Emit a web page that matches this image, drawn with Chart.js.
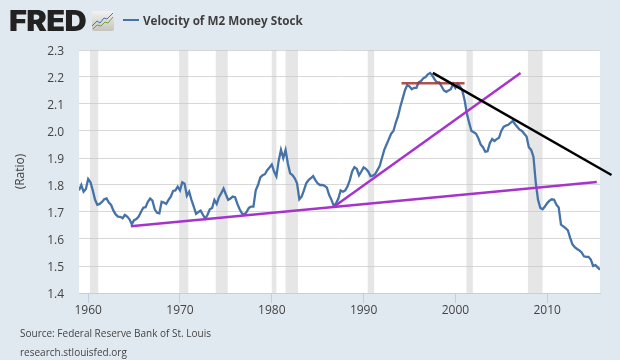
<!DOCTYPE html>
<html><head><meta charset="utf-8">
<script src="https://cdn.jsdelivr.net/npm/chart.js@4"></script>
<style>
html,body{margin:0;padding:0;background:#e1e9f0;overflow:hidden}
#wrap{position:relative;width:620px;height:360px;font-family:"Open Sans",sans-serif;color:#3f3f3f}
canvas{position:absolute;left:0;top:0}
.t{position:absolute;white-space:nowrap}
</style></head><body>
<div id="wrap">
<canvas id="c" width="620" height="360"></canvas>
<div class="t" id="fred" style="left:9px;top:3px;font:900 28px/36px Inter,sans-serif;color:#222;letter-spacing:-.6px;transform:scaleX(1.1);transform-origin:left center">FRED</div>
<svg class="t" style="left:92px;top:11px" width="23" height="21" viewBox="0 0 23 21">
<defs><linearGradient id="g" x1="0" y1="0" x2="0" y2="1"><stop offset="0" stop-color="#f2f2f2"/><stop offset="1" stop-color="#c4c4bc"/></linearGradient></defs>
<rect x="0" y="0" width="22" height="20" rx="2" fill="url(#g)"/>
<polyline points="0,15 5,10 8,12 12,7 15,8 21,2" fill="none" stroke="#4572a7" stroke-width="1"/>
<polyline points="1,18 5,14 9,15 13,11 16,12 21,6" fill="none" stroke="#7b9a3c" stroke-width="1"/>
</svg>
<div class="t" style="left:123px;top:19px;width:16px;height:2px;background:#4572a7"></div>
<div class="t" id="legend" style="left:143px;top:11px;font:700 11.7px/18px 'Open Sans',sans-serif;color:#3f3f3f">Velocity of M2 Money Stock</div>
<div class="t" style="left:20px;top:325px;font:10px/16px 'Open Sans',sans-serif;color:#444">Source: Federal Reserve Bank of St. Louis</div>
<div class="t" style="left:20px;top:344px;font:10px/16px 'Open Sans',sans-serif;color:#444">research.stlouisfed.org</div>
</div>
<script>
const startYear = 1959;
const velocity = [
1.78,1.80,1.775,1.785,
1.822,1.81,1.78,1.745,
1.727,1.73,1.737,1.747,
1.75,1.735,1.726,1.705,
1.691,1.683,1.682,1.677,
1.689,1.683,1.673,1.655,
1.67,1.674,1.683,1.70,
1.716,1.718,1.738,1.75,
1.742,1.71,1.697,1.695,
1.738,1.735,1.73,1.745,
1.757,1.778,1.78,1.794,
1.78,1.81,1.805,1.76,
1.775,1.745,1.72,1.693,
1.70,1.705,1.69,1.675,
1.69,1.71,1.715,1.745,
1.73,1.755,1.77,1.787,
1.765,1.745,1.75,1.757,
1.755,1.73,1.71,1.695,
1.69,1.70,1.715,1.72,
1.72,1.78,1.80,1.828,
1.836,1.84,1.855,1.865,
1.876,1.85,1.832,1.89,
1.93,1.90,1.93,1.88,
1.843,1.837,1.825,1.806,
1.747,1.757,1.78,1.806,
1.818,1.825,1.833,1.818,
1.806,1.80,1.80,1.797,
1.79,1.763,1.745,1.723,
1.732,1.75,1.78,1.775,
1.78,1.795,1.818,1.85,
1.866,1.86,1.836,1.85,
1.865,1.86,1.85,1.833,
1.835,1.84,1.855,1.87,
1.90,1.93,1.95,1.97,
1.99,2.00,2.03,2.055,
2.09,2.12,2.15,2.17,
2.165,2.155,2.16,2.16,
2.18,2.185,2.195,2.20,
2.21,2.215,2.205,2.19,
2.18,2.18,2.165,2.15,
2.145,2.15,2.155,2.175,
2.16,2.175,2.165,2.15,
2.115,2.065,2.03,2.00,
1.995,1.99,1.973,1.95,
1.94,1.923,1.925,1.955,
1.97,1.963,1.97,1.975,
2.00,2.015,2.02,2.023,
2.03,2.037,2.025,2.015,
2.005,2.00,1.99,1.98,
1.94,1.93,1.905,1.81,
1.745,1.715,1.71,1.72,
1.733,1.742,1.747,1.745,
1.727,1.717,1.653,1.647,
1.64,1.632,1.604,1.58,
1.57,1.563,1.558,1.55,
1.536,1.534,1.534,1.524,
1.50,1.503,1.495,1.486];
const trendLongPurple = [{x:1964.64,y:1.647},{x:2015.4,y:1.811}];
const trendSteepPurple = [{x:1986.87,y:1.722},{x:2007.1,y:2.215}];
const trendBlack = [{x:1997.54,y:2.215},{x:2017.0,y:1.837}];
const trendRed = [{x:1994.13,y:2.177},{x:2001.0,y:2.177}];
const recessions = [[1960.2,1961.1],[1969.9,1970.9],[1973.9,1975.2],[1980.0,1980.5],[1981.5,1982.85],[1990.45,1991.15],[2001.2,2001.9],[2007.9,2009.5]];
const xTicks = [1960,1970,1980,1990,2000,2010];
const yTicks = [1.4,1.5,1.6,1.7,1.8,1.9,2.0,2.1,2.2,2.3];

const series = velocity.map((v,i)=>({x:startYear+i/4,y:v}));
const bg = {id:'bg',
 beforeDraw(ch){const a=ch.chartArea,c=ch.ctx;c.save();c.fillStyle='#fff';c.fillRect(a.left,a.top,a.right-a.left,a.bottom-a.top);c.restore();},
 beforeDatasetsDraw(ch){const a=ch.chartArea,c=ch.ctx,s=ch.scales.x;c.save();c.fillStyle='rgba(200,200,200,0.45)';
  recessions.forEach(r=>{const l=s.getPixelForValue(r[0]),h=s.getPixelForValue(r[1]);c.fillRect(l,a.top,h-l,a.bottom-a.top);});c.restore();}};
new Chart(document.getElementById('c'),{
 type:'line',
 data:{datasets:[
  {label:'Velocity of M2 Money Stock',data:series,borderColor:'#4572a7',borderWidth:2.3,pointRadius:0,order:5,tension:0},
  {label:'Trend 1',data:trendLongPurple,borderColor:'#a634cc',borderWidth:2.5,pointRadius:0,order:2},
  {label:'Trend 2',data:trendSteepPurple,borderColor:'#a634cc',borderWidth:2.5,pointRadius:0,order:3},
  {label:'Trend 3',data:trendRed,borderColor:'rgba(160,50,50,0.85)',borderWidth:2.5,pointRadius:0,order:4},
  {label:'Trend 4',data:trendBlack,borderColor:'#000',borderWidth:2.5,pointRadius:0,order:1,clip:false}
 ]},
 options:{
  responsive:false,animation:false,
  layout:{padding:{top:50,right:20,left:0,bottom:0}},
  plugins:{legend:{display:false},tooltip:{enabled:false}},
  scales:{
   x:{type:'linear',min:1959,max:2015.75,
    afterBuildTicks(s){s.ticks=xTicks.map(v=>({value:v}));},
    afterFit(s){s.height=67;},
    grid:{drawOnChartArea:false,tickLength:10,tickColor:'#c0d0e0'},
    border:{color:'#c0d0e0',width:1},
    ticks:{autoSkip:false,maxRotation:0,padding:0,color:'#444',font:{family:'"Open Sans"',size:12},callback:v=>String(v)}},
   y:{min:1.4,max:2.3,
    afterBuildTicks(s){s.ticks=yTicks.map(v=>({value:v}));},
    afterFit(s){s.width=79;},
    grid:{color:'#d8d8d8',drawTicks:false},
    border:{display:false},
    title:{display:true,text:'(Ratio)',color:'#444',font:{family:'"Open Sans"',size:12},padding:{top:13,bottom:0}},
    ticks:{padding:15,labelOffset:1.5,color:'#444',font:{family:'"Open Sans"',size:12},callback:v=>v.toFixed(1)}}
  }
 },
 plugins:[bg]
});
</script>
</body></html>
